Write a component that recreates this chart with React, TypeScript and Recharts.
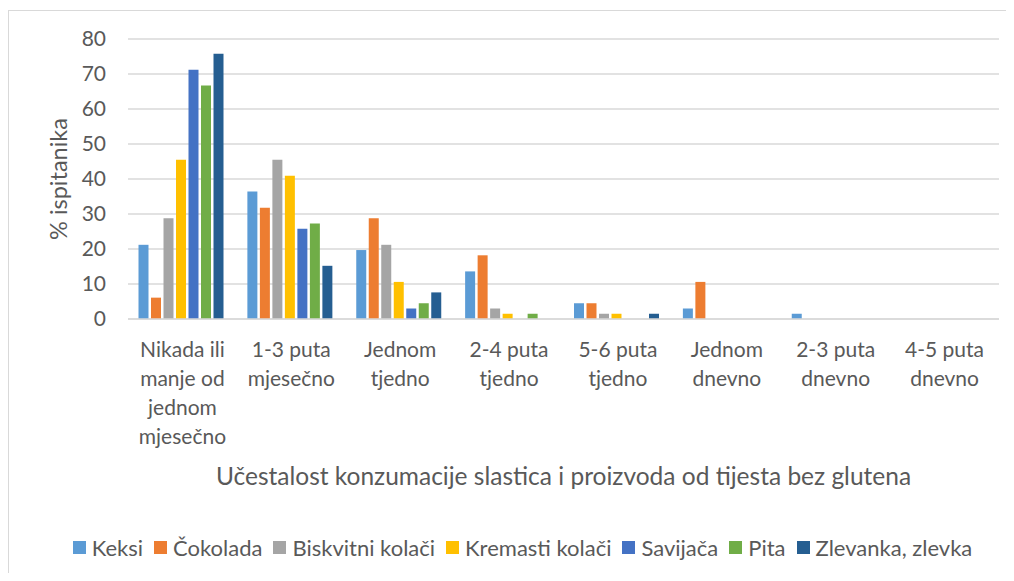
import React from 'react';
import { BarChart, Bar, XAxis, YAxis, CartesianGrid, Legend } from 'recharts';

const categories = [
  'Nikada ili\nmanje od\njednom\nmjesečno',
  '1-3 puta\nmjesečno',
  'Jednom\ntjedno',
  '2-4 puta\ntjedno',
  '5-6 puta\ntjedno',
  'Jednom\ndnevno',
  '2-3 puta\ndnevno',
  '4-5 puta\ndnevno',
];

const keksi = [21.2, 36.4, 19.7, 13.6, 4.5, 3.0, 1.5, 0];
const cokolada = [6.1, 31.8, 28.8, 18.2, 4.5, 10.6, 0, 0];
const biskvitni = [28.8, 45.5, 21.2, 3.0, 1.5, 0, 0, 0];
const kremasti = [45.5, 40.9, 10.6, 1.5, 1.5, 0, 0, 0];
const savijaca = [71.2, 25.8, 3.0, 0, 0, 0, 0, 0];
const pita = [66.7, 27.3, 4.5, 1.5, 0, 0, 0, 0];
const zlevanka = [75.8, 15.2, 7.6, 0, 1.5, 0, 0, 0];

const yTicks = [0, 10, 20, 30, 40, 50, 60, 70, 80];

const series = [
  { key: 'keksi', name: 'Keksi', values: keksi, color: '#5B9BD5' },
  { key: 'cokolada', name: 'Čokolada', values: cokolada, color: '#ED7D31' },
  { key: 'biskvitni', name: 'Biskvitni kolači', values: biskvitni, color: '#A5A5A5' },
  { key: 'kremasti', name: 'Kremasti kolači', values: kremasti, color: '#FFC000' },
  { key: 'savijaca', name: 'Savijača', values: savijaca, color: '#4472C4' },
  { key: 'pita', name: 'Pita', values: pita, color: '#70AD47' },
  { key: 'zlevanka', name: 'Zlevanka, zlevka', values: zlevanka, color: '#255E91' },
];

const data = categories.map((name, i) => {
  const row: Record<string, string | number> = { name };
  series.forEach((s) => {
    row[s.key] = s.values[i];
  });
  return row;
});

const FONT = 'Lato, "Open Sans", sans-serif';
const TEXT = '#595959';

const CategoryTick = (props: any) => {
  const { x, y, payload } = props;
  const lines = String(payload.value).split('\n');
  return (
    <text x={x} y={y} textAnchor="middle" fill={TEXT} fontSize={21} fontFamily={FONT}>
      {lines.map((line, i) => (
        <tspan key={i} x={x} dy={i === 0 ? 30 : 29}>
          {line}
        </tspan>
      ))}
    </text>
  );
};

const XTitle = (props: any) => {
  const { viewBox } = props;
  const cx = viewBox.x + viewBox.width / 2;
  return (
    <text x={cx} y={viewBox.y + 166} textAnchor="middle" fill={TEXT} fontSize={24.5} fontFamily={FONT}>
      Učestalost konzumacije slastica i proizvoda od tijesta bez glutena
    </text>
  );
};

const YTitle = (props: any) => {
  const { viewBox } = props;
  const cy = viewBox.y + viewBox.height / 2;
  const cx = 49;
  return (
    <text
      x={cx}
      y={cy}
      textAnchor="middle"
      dominantBaseline="central"
      transform={`rotate(-90, ${cx}, ${cy})`}
      fill={TEXT}
      fontSize={23.5}
      fontFamily={FONT}
    >
      % ispitanika
    </text>
  );
};

const LegendContent = () => (
  <div
    style={{
      display: 'flex',
      justifyContent: 'center',
      alignItems: 'center',
      gap: 11,
      fontFamily: FONT,
      fontSize: 22,
      color: TEXT,
      paddingRight: 22,
      marginTop: -2,
    }}
  >
    {series.map((s) => (
      <span key={s.key} style={{ display: 'flex', alignItems: 'center', whiteSpace: 'nowrap' }}>
        <span style={{ display: 'inline-block', width: 13, height: 13, background: s.color, marginRight: 6 }} />
        {s.name}
      </span>
    ))}
  </div>
);

const App: React.FC = () => {
  return (
    <div
      style={{
        marginTop: 2,
        width: 998,
        height: 563,
        boxSizing: 'border-box',
        borderTop: '1px solid #d9d9d9',
        borderLeft: '1px solid #d9d9d9',
        background: '#fff',
      }}
    >
      <BarChart
        width={997}
        height={562}
        data={data}
        margin={{ top: 28, right: 7, left: 59, bottom: 13 }}
        barCategoryGap={10.5}
        barGap={2.5}
      >
        <CartesianGrid vertical={false} stroke="#d9d9d9" strokeWidth={1.5} />
        <XAxis
          dataKey="name"
          height={217}
          interval={0}
          tickLine={false}
          axisLine={{ stroke: '#d9d9d9', strokeWidth: 1.5 }}
          tick={<CategoryTick />}
          label={<XTitle />}
        />
        <YAxis
          width={60}
          domain={[0, 80]}
          ticks={yTicks}
          tickLine={false}
          axisLine={false}
          tickMargin={16}
          tick={{ fill: TEXT, fontSize: 21, fontFamily: FONT }}
          label={<YTitle />}
        />
        <Legend verticalAlign="bottom" height={24} content={<LegendContent />} />
        {series.map((s) => (
          <Bar key={s.key} dataKey={s.key} name={s.name} fill={s.color} isAnimationActive={false} />
        ))}
      </BarChart>
    </div>
  );
};

export default App;
